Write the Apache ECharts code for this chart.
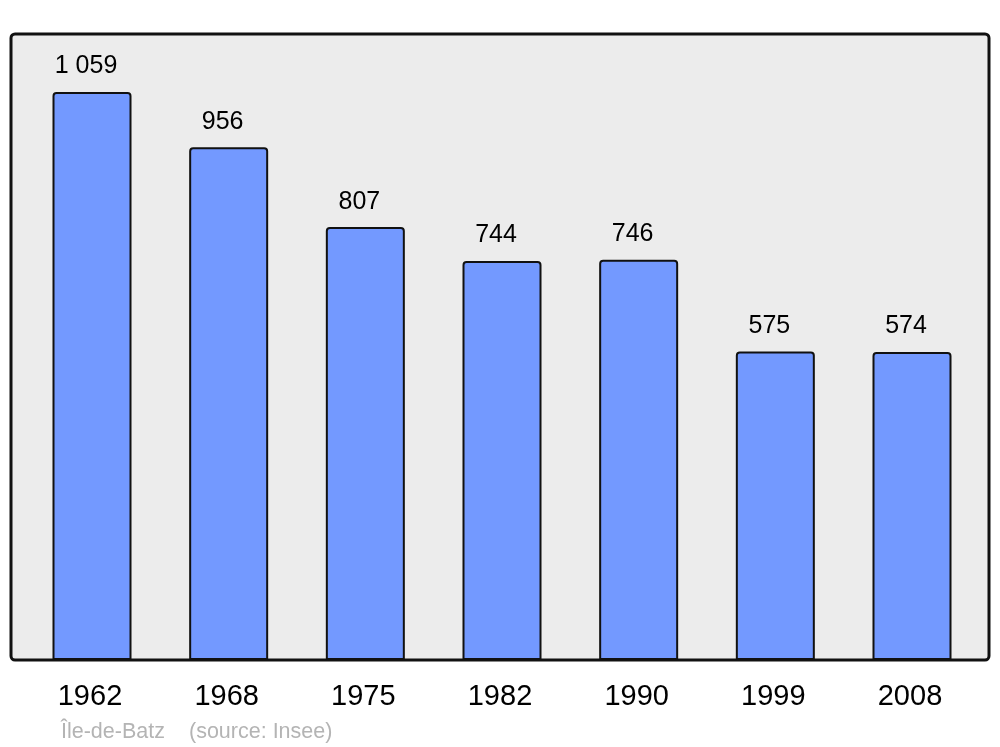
<!DOCTYPE html>
<html>
<head>
<meta charset="utf-8">
<script src="https://cdn.jsdelivr.net/npm/echarts@6/dist/echarts.min.js"></script>
<style>
  html, body { margin: 0; padding: 0; background: #fff; }
  #chart { width: 1000px; height: 747px; }
</style>
</head>
<body>
<div id="chart"></div>
<script>
// population data
var years = ['1962', '1968', '1975', '1982', '1990', '1999', '2008']
var population = [1059, 956, 807, 744, 746, 575, 574]
var yMax = 1167

function formatNumber(v) {
  return String(v).replace(/\B(?=(\d{3})+(?!\d))/g, ' ')
}

var chart = echarts.init(document.getElementById('chart'))
chart.setOption({
  animation: false,
  textStyle: { fontFamily: 'Liberation Sans, Arial, sans-serif' },
  graphic: [
    {
      type: 'rect',
      z: -1,
      silent: true,
      shape: { x: 11, y: 34, width: 978, height: 626, r: 4 },
      style: { fill: '#ececec', stroke: '#111', lineWidth: 3 }
    },
    {
      type: 'text',
      left: 61,
      top: 721,
      silent: true,
      style: {
        text: 'Île-de-Batz',
        fill: '#b4b4b4',
        font: '21.5px "Liberation Sans", Arial, sans-serif'
      }
    },
    {
      type: 'text',
      left: 189,
      top: 721,
      silent: true,
      style: {
        text: '(source: Insee)',
        fill: '#b4b4b4',
        font: '21.5px "Liberation Sans", Arial, sans-serif'
      }
    }
  ],
  grid: { left: 23.67, right: 19.67, top: 34, bottom: 87 },
  xAxis: {
    type: 'category',
    data: years,
    axisLine: { show: false },
    axisTick: { show: false },
    axisLabel: { color: '#000', fontSize: 29, margin: 22, padding: [0, 4, 0, 0] }
  },
  yAxis: {
    type: 'value',
    min: 0,
    max: yMax,
    show: false,
    splitLine: { show: false }
  },
  series: [
    {
      type: 'bar',
      data: population,
      barWidth: 79,
      z: 2,
      itemStyle: {
        color: '#7399ff',
        borderColor: '#111',
        borderWidth: 2,
        borderRadius: [3, 3, 0, 0]
      },
      label: {
        show: true,
        position: 'top',
        distance: 13,
        offset: [-6, 0],
        color: '#000',
        fontSize: 25,
        formatter: function (p) { return formatNumber(p.value) }
      }
    }
  ]
})
</script>
</body>
</html>
